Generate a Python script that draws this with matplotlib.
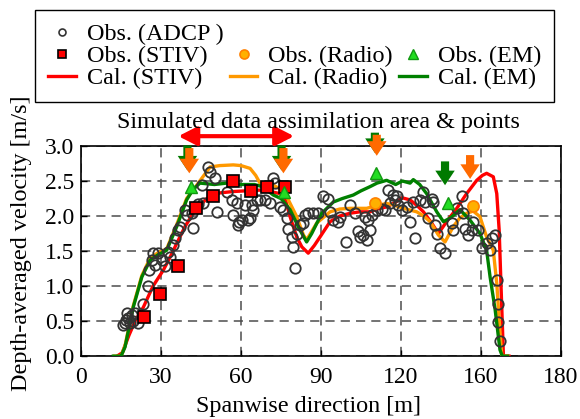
import matplotlib
matplotlib.use("Agg")
import matplotlib.pyplot as plt
from matplotlib.lines import Line2D

plt.rcParams['font.family'] = ['Liberation Serif', 'DejaVu Serif']

# observed ADCP (spanwise position [m], velocity [m/s])
adcp_x = [15.9, 16.5, 17.1, 17.75, 18.4, 19.0, 20.25, 21.5, 16.8, 19.5,
          23.4, 25.25, 25.6, 26.5, 27.1, 27.75, 29.0, 30.25, 31.5, 32.75, 33.4, 34.6, 35.25,
          36.5, 37.1, 39.0, 39.6, 41.5, 41.9, 44.0,
          45.25, 45.9, 47.75, 48.4, 50.25, 50.9, 54.6, 56.5, 57.1, 58.4, 59.0, 59.4, 60.25,
          61.5, 62.75, 63.4, 64.0, 64.6, 65.9,
          67.1, 69.0, 70.9, 72.1, 72.75, 74.6, 75.9, 77.1, 77.75, 79.0, 79.6, 80.25, 80.9,
          82.1, 83.4, 84.0, 85.25, 87.1, 89.0,
          90.9, 92.75, 93.4, 94.6, 96.5, 97.1, 99.4, 100.9, 102.75, 104.0, 104.6, 105.9,
          106.5, 107.1, 107.75, 108.4, 109.0, 110.9, 112.75, 114.0,
          115.25, 115.9, 117.1, 117.75, 118.4, 119.0, 120.25, 122.1, 123.4, 124.6, 125.25,
          127.1, 128.4, 129.0, 130.25, 131.5, 132.1, 132.75, 133.4,
          134.6, 136.5, 139.0, 139.6, 140.9, 142.75, 143.4, 144.0, 145.25, 146.5, 147.1,
          149.0, 150.25, 152.1, 153.4, 154.0, 155.25, 155.9, 156.5, 156.25, 157.1]
adcp_y = [0.44, 0.47, 0.61, 0.54, 0.47, 0.59, 0.61, 0.47, 0.52, 0.50,
          0.75, 1.00, 1.23, 1.37, 1.47, 1.30, 1.47, 1.37, 1.28, 1.49, 1.42, 1.59, 1.68,
          1.80, 1.85, 2.09, 2.01, 2.04, 1.83, 2.17,
          2.44, 2.18, 2.70, 2.63, 2.54, 2.06, 2.35, 2.23, 2.01, 2.18, 1.87, 1.92, 1.94,
          2.16, 1.95, 1.97, 2.16, 2.09, 2.23,
          2.23, 2.23, 2.18, 2.54, 2.47, 2.13, 2.09, 1.97, 1.82, 1.70, 1.56, 1.26, 1.75,
          1.87, 1.90, 2.01, 2.04, 2.04, 2.04,
          2.28, 2.25, 2.06, 1.94, 1.92, 1.99, 1.63, 2.16, 2.04, 1.78, 1.70, 1.73,
          1.99, 1.66, 1.94, 1.80, 2.01, 2.08, 2.10, 2.08,
          2.37, 2.18, 2.30, 2.23, 2.28, 2.16, 2.09, 2.13, 1.92, 2.20, 1.68,
          2.23, 2.35, 2.20, 1.97, 2.25, 2.20, 1.87, 1.75,
          1.54, 1.47, 1.90, 1.80, 2.11, 2.28, 2.04, 1.82, 1.73, 1.80, 1.92,
          1.80, 1.54, 1.61, 1.51, 1.68, 1.73, 1.09, 0.75, 0.49, 0.22]

# observed STIV / Radio / EM
stiv_x = [23.6, 29.6, 36.3, 43.1, 49.4, 56.9, 63.75, 69.9, 76.5]
stiv_y = [0.56, 0.885, 1.285, 2.12, 2.29, 2.50, 2.36, 2.41, 2.42]
radio_x = [110.25, 147.1]
radio_y = [2.19, 2.15]
em_x = [41.25, 76.2, 110.6, 137.8]
em_y = [2.42, 2.34, 2.62, 2.18]

# calculated profiles
cal_stiv_x = [13.5, 15.5, 18.0, 20.5, 23.4, 27, 30.9, 33.5, 35.9, 39, 42.1, 47.1, 52, 57.1, 62,
              67.1, 71, 74.6, 76.5, 78.4, 80.9, 82.8, 85.2, 87.5, 89.6, 93.4, 97, 100.9, 104.5,
              108.4, 111, 114.6, 118, 120.5, 123.4, 126, 128.4, 131.5, 134.0, 137.1, 140.9,
              144.6, 148.4, 150.5, 152.1, 154.6, 155.9, 156.8, 157.5, 158.4, 160.5]
cal_stiv_y = [0, 0.05, 0.30, 0.52, 0.70, 1.00, 1.23, 1.42, 1.61, 1.85, 2.04, 2.25, 2.33, 2.35, 2.36,
              2.37, 2.35, 2.32, 2.25, 1.99, 1.70, 1.56, 1.47, 1.58, 1.70, 1.92, 2.00, 2.04, 2.06,
              2.06, 2.10, 2.13, 2.20, 2.26, 2.23, 2.15, 2.06, 1.90, 1.75, 1.92, 2.11,
              2.32, 2.51, 2.58, 2.61, 2.56, 2.32, 1.80, 1.00, 0, 0]
cal_radio_x = [12.5, 15.0, 16.5, 19.6, 22.8, 25.9, 29.0, 32.1, 35.9, 39.6, 43, 45.5, 48.4, 52,
               57.1, 60, 63.4, 65.5, 67.1, 72.1, 75, 77.1, 80.9, 83.4, 84.6, 86.5, 88.4, 93.4,
               97, 100.9, 107.1, 111, 114.6, 117, 120.9, 125.9, 128.5, 130.9, 134.0, 136.5,
               139.6, 142, 144.6, 147.1, 149.6, 152.1, 154.6, 155.9, 157.0, 157.8, 160]
cal_radio_y = [0, 0, 0.15, 0.72, 1.15, 1.40, 1.48, 1.53, 1.88, 2.25, 2.42, 2.55, 2.70, 2.72,
               2.73, 2.72, 2.68, 2.58, 2.47, 2.44, 2.38, 2.28, 1.99, 1.73, 1.66, 1.78, 1.90, 2.06,
               2.10, 2.11, 2.11, 2.15, 2.18, 2.16, 2.11, 2.06, 2.00, 1.92, 1.73, 1.63,
               1.85, 1.97, 2.04, 2.07, 1.99, 1.70, 1.51, 1.04, 0.40, 0, 0]
cal_em_x = [12.1, 15.0, 16.5, 19.6, 22.8, 25.9, 29.0, 32.1, 35.9, 39.6, 42.0, 44.6, 50, 54.6,
            60, 65, 68, 72.1, 75, 78.4, 82.1, 84.6, 86.5, 90.3, 94.6, 98, 102.1, 105, 108.4,
            111, 114.6, 118, 120.5, 123.4, 124.6, 127, 129.6, 133.4, 135.9, 138.4, 142.1,
            145.9, 149.6, 152.1, 153.4, 155.3, 157.1, 158.0, 160.0]
cal_em_y = [0, 0, 0.13, 0.70, 1.13, 1.37, 1.45, 1.51, 1.85, 2.23, 2.38, 2.47, 2.45, 2.47,
            2.45, 2.45, 2.42, 2.30, 2.25, 2.09, 1.80, 1.63, 1.75, 2.04, 2.20, 2.25, 2.30, 2.36,
            2.42, 2.47, 2.51, 2.45, 2.50, 2.47, 2.52, 2.45, 2.32, 2.06, 1.92, 1.97, 2.09,
            1.94, 1.75, 1.51, 1.13, 0.66, 0.09, 0, 0]

# assimilation points (arrows): x, top, tip
orange_arrows = [(40.6, 2.97, 2.61), (75.9, 2.97, 2.61), (110.9, 3.16, 2.86), (145.9, 2.87, 2.53)]
green_arrows = [(39.9, 3.01, 2.65), (75.2, 3.01, 2.65), (110.2, 3.19, 2.90), (136.5, 2.78, 2.44)]

xticks = [0, 30, 60, 90, 120, 150, 180]
xticklabels = ['0', '30', '60', '90', '120', '160', '180']
yticks = [0.0, 0.5, 1.0, 1.5, 2.0, 2.5, 3.0]

c_red = '#ff0000'
c_orange = '#ff9900'
c_green = '#008000'
fs = 17.4

fig = plt.figure(figsize=(5.8, 4.19), dpi=100)
ax = fig.add_axes([0.1397, 0.150, 0.8276, 0.5016])

ax.plot(cal_stiv_x, cal_stiv_y, color=c_red, lw=2.4, zorder=3)
ax.plot(cal_radio_x, cal_radio_y, color=c_orange, lw=2.4, zorder=3)
ax.plot(cal_em_x, cal_em_y, color=c_green, lw=2.4, zorder=3)

ax.plot(adcp_x, adcp_y, 'o', ms=7.5, mfc='none', mec='#333333', mew=1.3, zorder=4)
ax.plot(stiv_x, stiv_y, 's', ms=8, mfc='#ff0000', mec='black', mew=1.2, zorder=5)
ax.plot(radio_x, radio_y, 'o', ms=8, mfc='#ffb000', mec='#ff8000', mew=1.2, zorder=5)
ax.plot(em_x, em_y, '^', ms=9, mfc='#22dd22', mec='#119911', mew=1.0, zorder=5)

arrow_style = 'simple,head_length=0.75,head_width=1.0,tail_width=0.42'
for x, top, tip in green_arrows:
    ax.annotate('', xy=(x, tip), xytext=(x, top), annotation_clip=False,
                arrowprops=dict(arrowstyle=arrow_style, fc='#007a00', ec='none',
                                mutation_scale=14, shrinkA=0, shrinkB=0), zorder=6)
for x, top, tip in orange_arrows:
    ax.annotate('', xy=(x, tip), xytext=(x, top), annotation_clip=False,
                arrowprops=dict(arrowstyle=arrow_style, fc='#ff6a00', ec='none',
                                mutation_scale=14, shrinkA=0, shrinkB=0), zorder=7)

# assimilation area
ax.annotate('', xy=(36.5, 3.14), xytext=(79.9, 3.14), annotation_clip=False,
            arrowprops=dict(arrowstyle='<|-|>,head_length=0.55,head_width=0.28',
                            color=c_red, lw=3, mutation_scale=20, shrinkA=0, shrinkB=0))
ax.text(88.9, 3.34, 'Simulated data assimilation area & points', ha='center', va='center',
        fontsize=fs, clip_on=False)

ax.set_xlim(0, 180)
ax.set_ylim(0, 3.0)
ax.set_xticks(xticks)
ax.set_xticklabels(xticklabels)
ax.set_yticks(yticks)
ax.set_yticklabels(['%.1f' % v for v in yticks])
ax.tick_params(direction='in', length=4, labelsize=17, width=1)
ax.tick_params(axis='x', pad=8)
ax.tick_params(axis='y', pad=5)
ax.grid(True, ls=(0, (6, 4)), color='0.3', lw=1.1)
for s in ax.spines.values():
    s.set_linewidth(1.2)
ax.set_xlabel('Spanwise direction [m]', fontsize=fs)
ax.set_ylabel('Depth-averaged velocity [m/s]', fontsize=fs)
ax.xaxis.set_label_coords(0.473, -0.19)
ax.yaxis.set_label_coords(-0.102, 0.536)

blank = Line2D([], [], ls='none')
h_adcp = Line2D([], [], ls='none', marker='o', ms=5, mfc='none', mec='#333333', mew=1.2)
h_stiv = Line2D([], [], ls='none', marker='s', ms=6, mfc='#ff0000', mec='black', mew=1.2)
h_radio = Line2D([], [], ls='none', marker='o', ms=6.5, mfc='#ffb000', mec='#ff8000', mew=1.2)
h_em = Line2D([], [], ls='none', marker='^', ms=7, mfc='#22dd22', mec='#119911', mew=1.0)
h_cs = Line2D([], [], color=c_red, lw=2.4)
h_cr = Line2D([], [], color=c_orange, lw=2.4)
h_ce = Line2D([], [], color=c_green, lw=2.4)
handles = [h_adcp, h_stiv, h_cs, blank, h_radio, h_cr, blank, h_em, h_ce]
labels = ['Obs. (ADCP )', 'Obs. (STIV)', 'Cal. (STIV)', '', 'Obs. (Radio)', 'Cal. (Radio)',
          '', 'Obs. (EM)', 'Cal. (EM)']
leg = fig.legend(handles, labels, ncol=3, loc='upper left', bbox_to_anchor=(35 / 580, 1 - 10 / 419),
                 fontsize=fs, frameon=True, fancybox=False, edgecolor='black', framealpha=1,
                 handlelength=1.15, handletextpad=0.45, columnspacing=0.25, labelspacing=0.0,
                 borderpad=0.55, borderaxespad=0)
leg.get_frame().set_linewidth(1.0)

fig.savefig('out.png', dpi=100)
